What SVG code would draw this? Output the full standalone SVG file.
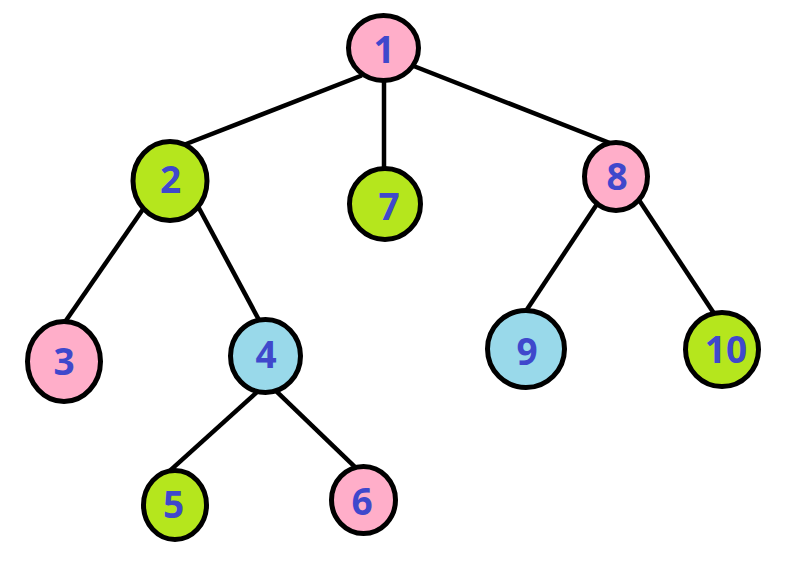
<svg xmlns="http://www.w3.org/2000/svg" width="811" height="569" viewBox="0 0 811 569">
<style>
.e{stroke:#000;stroke-width:4.5;fill:none}
.n ellipse{stroke:#000;stroke-width:5}
.pink{fill:#ffaec9}
.green{fill:#b5e61d}
.blue{fill:#99d9ea}
.n text{font-family:"Open Sans","Noto Sans",sans-serif;font-weight:bold;font-size:37px;fill:#3f48cc;text-anchor:middle}
</style>
<rect width="811" height="569" fill="#fff"/>
<g id="edges">
<line class="e" x1="361.7" y1="75.5" x2="184.8" y2="144.5"/>
<line class="e" x1="384" y1="78" x2="384" y2="169"/>
<line class="e" x1="412.3" y1="65.5" x2="613.7" y2="144.5"/>
<line class="e" x1="143.3" y1="208.7" x2="62.7" y2="325.3"/>
<line class="e" x1="198.1" y1="206.5" x2="260.9" y2="323.5"/>
<line class="e" x1="260" y1="389.3" x2="170" y2="470.7"/>
<line class="e" x1="274.1" y1="389.2" x2="355.9" y2="467.8"/>
<line class="e" x1="597.2" y1="203.7" x2="525.8" y2="311.3"/>
<line class="e" x1="638.8" y1="199.7" x2="715.2" y2="315.3"/>
</g>
<g id="n1" class="n"><ellipse class="pink" cx="383.5" cy="48" rx="35" ry="32.5"/><text x="384" y="63">1</text></g>
<g id="n2" class="n"><ellipse class="green" cx="170" cy="181" rx="37" ry="39.5"/><text x="170.5" y="193">2</text></g>
<g id="n7" class="n"><ellipse class="green" cx="385" cy="204" rx="35.5" ry="35.5"/><text x="389" y="220">7</text></g>
<g id="n8" class="n"><ellipse class="pink" cx="616" cy="176.5" rx="31.5" ry="34"/><text x="617" y="190">8</text></g>
<g id="n3" class="n"><ellipse class="pink" cx="64" cy="361.5" rx="36.5" ry="40"/><text x="64" y="375">3</text></g>
<g id="n4" class="n"><ellipse class="blue" cx="265.5" cy="356" rx="35" ry="36.5"/><text x="266" y="368">4</text></g>
<g id="n9" class="n"><ellipse class="blue" cx="526" cy="349" rx="38.5" ry="38.5"/><text x="527" y="365">9</text></g>
<g id="n10" class="n"><ellipse class="green" cx="722" cy="349.5" rx="36.5" ry="37"/><text x="726" y="363">10</text></g>
<g id="n5" class="n"><ellipse class="green" cx="175" cy="505" rx="31.5" ry="34.5"/><text x="173.5" y="518">5</text></g>
<g id="n6" class="n"><ellipse class="pink" cx="363.5" cy="500" rx="32" ry="33.5"/><text x="362" y="515">6</text></g>
</svg>
